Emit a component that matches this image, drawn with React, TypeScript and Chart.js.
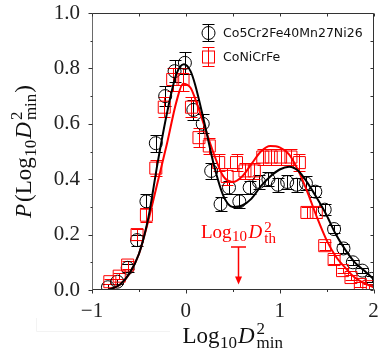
import React, { useEffect, useRef } from "react";
import { Chart, registerables } from "chart.js";

Chart.register(...registerables);

// ---- data ----
const circleX = [-0.83, -0.73, -0.62, -0.52, -0.42, -0.32, -0.22, -0.12, -0.01, 0.08, 0.18, 0.27, 0.37, 0.46, 0.57, 0.68, 0.78, 0.88, 0.98, 1.08, 1.18, 1.28, 1.38, 1.48, 1.58, 1.68, 1.78, 1.88, 1.98];
const circleY = [0.01, 0.03, 0.08, 0.18, 0.32, 0.53, 0.70, 0.79, 0.82, 0.65, 0.60, 0.43, 0.31, 0.37, 0.32, 0.37, 0.39, 0.40, 0.38, 0.39, 0.38, 0.385, 0.355, 0.29, 0.22, 0.15, 0.10, 0.07, 0.04];
const circleErr = [0.01, 0.01, 0.015, 0.02, 0.025, 0.03, 0.035, 0.04, 0.04, 0.035, 0.035, 0.03, 0.025, 0.025, 0.025, 0.025, 0.025, 0.025, 0.025, 0.025, 0.025, 0.025, 0.02, 0.02, 0.015, 0.015, 0.01, 0.01, 0.01];

const squareX = [-0.81, -0.71, -0.62, -0.52, -0.42, -0.32, -0.23, -0.14, -0.03, 0.06, 0.14, 0.25, 0.35, 0.44, 0.54, 0.63, 0.73, 0.82, 0.91, 1.01, 1.12, 1.21, 1.29, 1.39, 1.48, 1.58, 1.67, 1.76, 1.86, 1.95];
const squareY = [0.03, 0.05, 0.09, 0.20, 0.27, 0.44, 0.66, 0.76, 0.76, 0.66, 0.55, 0.52, 0.46, 0.41, 0.46, 0.43, 0.43, 0.48, 0.48, 0.48, 0.48, 0.46, 0.28, 0.28, 0.16, 0.11, 0.07, 0.045, 0.02, 0.012];
const squareErr = [0.01, 0.01, 0.015, 0.02, 0.025, 0.03, 0.035, 0.04, 0.04, 0.035, 0.035, 0.03, 0.03, 0.03, 0.03, 0.03, 0.03, 0.03, 0.03, 0.03, 0.03, 0.03, 0.02, 0.02, 0.015, 0.015, 0.01, 0.01, 0.01, 0.01];

const blackFitX = [-0.83, -0.7, -0.6, -0.5, -0.4, -0.3, -0.2, -0.1, -0.02, 0.05, 0.1, 0.2, 0.3, 0.4, 0.5, 0.6, 0.7, 0.8, 0.9, 1.0, 1.1, 1.2, 1.3, 1.4, 1.5, 1.6, 1.7, 1.8, 1.9, 2.0];
const blackFitY = [0, 0.02, 0.06, 0.13, 0.26, 0.46, 0.64, 0.78, 0.815, 0.79, 0.74, 0.60, 0.45, 0.34, 0.30, 0.305, 0.33, 0.375, 0.41, 0.435, 0.445, 0.43, 0.385, 0.33, 0.27, 0.20, 0.145, 0.10, 0.07, 0.04];

const redFitX = [-0.83, -0.7, -0.6, -0.5, -0.4, -0.3, -0.2, -0.1, -0.03, 0.05, 0.1, 0.2, 0.3, 0.4, 0.5, 0.6, 0.7, 0.8, 0.9, 1.0, 1.1, 1.2, 1.3, 1.4, 1.5, 1.6, 1.7, 1.8, 1.9, 2.0];
const redFitY = [0, 0.02, 0.06, 0.13, 0.25, 0.39, 0.53, 0.68, 0.745, 0.73, 0.69, 0.59, 0.49, 0.41, 0.39, 0.41, 0.455, 0.50, 0.52, 0.515, 0.49, 0.43, 0.35, 0.26, 0.18, 0.12, 0.08, 0.045, 0.025, 0.01];

const legendLabels = ["Co5Cr2Fe40Mn27Ni26", "CoNiCrFe"];
const xMin = -1, xMax = 2, xStep = 1, xMinorStep = 0.5;
const yMin = 0, yMax = 1, yStep = 0.2, yMinorStep = 0.1;
const thresholdX = 0.56;
const thresholdTop = 0.155;
const thresholdBottom = 0.02;

const RED = "#ff0000";
const SERIF = "'Liberation Serif', 'DejaVu Serif', serif";
const SANS = "'DejaVu Sans', sans-serif";

type Piece = { t: string; size: number; it?: boolean; dy?: number; pad?: number; join?: boolean };

function pieceFont(p: Piece) {
  return `${p.it ? "italic " : ""}${p.size}px ${SERIF}`;
}

function layoutPieces(ctx: CanvasRenderingContext2D, pieces: Piece[]) {
  let x = 0;
  let groupStart = 0;
  let groupW = 0;
  const out: { p: Piece; x: number }[] = [];
  for (const p of pieces) {
    ctx.font = pieceFont(p);
    const w = ctx.measureText(p.t).width;
    if (p.join) {
      out.push({ p, x: groupStart });
      groupW = Math.max(groupW, w);
      x = groupStart + groupW;
    } else {
      x += p.pad || 0;
      groupStart = x;
      groupW = w;
      out.push({ p, x });
      x += w;
    }
  }
  return { out, width: x };
}

function drawPieces(ctx: CanvasRenderingContext2D, pieces: Piece[], cx: number, baseY: number, color: string) {
  const { out, width } = layoutPieces(ctx, pieces);
  const x0 = cx - width / 2;
  ctx.fillStyle = color;
  ctx.textAlign = "left";
  ctx.textBaseline = "alphabetic";
  for (const o of out) {
    ctx.font = pieceFont(o.p);
    ctx.fillText(o.p.t, x0 + o.x, baseY + (o.p.dy || 0));
  }
}

const xTitle: Piece[] = [
  { t: "Log", size: 23 },
  { t: "10", size: 17, dy: 5, pad: 0.5 },
  { t: "D", size: 23, it: true, pad: 1 },
  { t: "2", size: 17, dy: -9, pad: 2 },
  { t: "min", size: 17, dy: 5, join: true },
];
const yTitle: Piece[] = [
  { t: "P", size: 23, it: true },
  { t: "(", size: 23, pad: 2 },
  { t: "Log", size: 23 },
  { t: "10", size: 17, dy: 5, pad: 0.5 },
  { t: "D", size: 23, it: true, pad: 1 },
  { t: "2", size: 17, dy: -9, pad: 2 },
  { t: "min", size: 17, dy: 5, join: true },
  { t: ")", size: 23, pad: 1 },
];
const thLabel: Piece[] = [
  { t: "Log", size: 19 },
  { t: "10", size: 15, dy: 3, pad: 0.5 },
  { t: "D", size: 19, it: true, pad: 1.5 },
  { t: "2", size: 15, dy: -6, pad: 2 },
  { t: "th", size: 15, dy: 5, join: true },
];

function range(a: number, b: number, step: number) {
  const r: number[] = [];
  const n = Math.round((b - a) / step);
  for (let i = 0; i <= n; i++) r.push(a + i * step);
  return r;
}

const decorPlugin = {
  id: "decor",
  beforeDatasetsDraw(chart: any) {
    const ctx: CanvasRenderingContext2D = chart.ctx;
    const xs = chart.scales.x;
    const ys = chart.scales.y;
    const ca = chart.chartArea;
    ctx.save();
    // faint figure-box remnant
    ctx.strokeStyle = "#f3f3f3";
    ctx.lineWidth = 1;
    ctx.beginPath();
    ctx.moveTo(36.5, 318);
    ctx.lineTo(36.5, 331.5);
    ctx.lineTo(170, 331.5);
    ctx.stroke();
    ctx.beginPath();
    ctx.rect(ca.left, ca.top, ca.right - ca.left, ca.bottom - ca.top);
    ctx.clip();
    const sets = [
      { X: circleX, Y: circleY, E: circleErr, c: "#000" },
      { X: squareX, Y: squareY, E: squareErr, c: RED },
    ];
    for (const s of sets) {
      ctx.strokeStyle = s.c;
      for (let i = 0; i < s.X.length; i++) {
        const px = Math.round(xs.getPixelForValue(s.X[i])) + 0.5;
        const pt = Math.round(ys.getPixelForValue(s.Y[i] + s.E[i])) + 0.5;
        const pb = Math.round(ys.getPixelForValue(s.Y[i] - s.E[i])) + 0.5;
        ctx.beginPath();
        ctx.moveTo(px, pt);
        ctx.lineTo(px, pb);
        ctx.moveTo(px - 6, pt);
        ctx.lineTo(px + 6, pt);
        ctx.moveTo(px - 6, pb);
        ctx.lineTo(px + 6, pb);
        ctx.stroke();
      }
    }
    ctx.restore();
  },
  afterDraw(chart: any) {
    const ctx: CanvasRenderingContext2D = chart.ctx;
    const xs = chart.scales.x;
    const ys = chart.scales.y;
    const ca = chart.chartArea;
    const L = Math.round(ca.left) + 0.5;
    const R = Math.round(ca.right) - 0.5;
    const T = Math.round(ca.top) + 0.5;
    const B = Math.round(ca.bottom) - 0.5;
    ctx.save();
    ctx.lineWidth = 1;
    ctx.strokeStyle = "#333";
    ctx.beginPath();
    ctx.moveTo(L, T);
    ctx.lineTo(R, T);
    ctx.lineTo(R, B);
    ctx.lineTo(L, B);
    ctx.stroke();
    ctx.strokeStyle = "#6a6a6a";
    ctx.beginPath();
    ctx.moveTo(L, T);
    ctx.lineTo(L, B);
    ctx.stroke();
    ctx.strokeStyle = "#333";
    ctx.beginPath();
    for (const v of range(xMin, xMax, xMinorStep)) {
      const px = Math.round(xs.getPixelForValue(v)) + 0.5;
      const major = Math.abs(v / xStep - Math.round(v / xStep)) < 1e-6;
      ctx.moveTo(px, B);
      ctx.lineTo(px, B + (major ? 4 : 2.5));
      ctx.moveTo(px, T);
      ctx.lineTo(px, T + 3);
    }
    for (const v of range(yMin, yMax, yMinorStep)) {
      const py = Math.round(ys.getPixelForValue(v)) + 0.5;
      const major = Math.abs(v / yStep - Math.round(v / yStep)) < 1e-6;
      ctx.moveTo(L - (major ? 4 : 2), py);
      ctx.lineTo(L, py);
      ctx.moveTo(R, py);
      ctx.lineTo(R - 3, py);
    }
    ctx.stroke();

    // threshold arrow
    const ax = Math.round(xs.getPixelForValue(thresholdX)) + 0.5;
    const aTop = ys.getPixelForValue(thresholdTop);
    const aBot = ys.getPixelForValue(thresholdBottom);
    ctx.strokeStyle = RED;
    ctx.fillStyle = RED;
    ctx.lineWidth = 1.5;
    ctx.beginPath();
    ctx.moveTo(ax - 7.5, aTop);
    ctx.lineTo(ax + 7.5, aTop);
    ctx.moveTo(ax, aTop);
    ctx.lineTo(ax, aBot - 6);
    ctx.stroke();
    ctx.beginPath();
    ctx.moveTo(ax - 3.5, aBot - 8);
    ctx.lineTo(ax + 3.5, aBot - 8);
    ctx.lineTo(ax, aBot);
    ctx.closePath();
    ctx.fill();
    drawPieces(ctx, thLabel, ax, aTop - 9, RED);

    // legend
    const lx = 208;
    const rows = [33, 57];
    ctx.lineWidth = 1;
    ctx.strokeStyle = "#000";
    ctx.beginPath();
    ctx.moveTo(lx + 0.5, rows[0] - 8.5);
    ctx.lineTo(lx + 0.5, rows[0] + 8.5);
    ctx.moveTo(lx - 5.5, rows[0] - 8.5);
    ctx.lineTo(lx + 6.5, rows[0] - 8.5);
    ctx.moveTo(lx - 5.5, rows[0] + 8.5);
    ctx.lineTo(lx + 6.5, rows[0] + 8.5);
    ctx.stroke();
    ctx.beginPath();
    ctx.arc(lx + 0.5, rows[0], 6.5, 0, Math.PI * 2);
    ctx.stroke();
    ctx.strokeStyle = RED;
    ctx.beginPath();
    ctx.moveTo(lx + 0.5, rows[1] - 9.5);
    ctx.lineTo(lx + 0.5, rows[1] + 9.5);
    ctx.moveTo(lx - 5.5, rows[1] - 9.5);
    ctx.lineTo(lx + 6.5, rows[1] - 9.5);
    ctx.moveTo(lx - 5.5, rows[1] + 9.5);
    ctx.lineTo(lx + 6.5, rows[1] + 9.5);
    ctx.stroke();
    ctx.strokeRect(lx - 5.5, rows[1] - 6, 12, 12);
    ctx.fillStyle = "#111";
    ctx.font = `12.5px ${SANS}`;
    ctx.textAlign = "left";
    ctx.textBaseline = "middle";
    ctx.fillText(legendLabels[0], 223, rows[0] + 0.5);
    ctx.fillText(legendLabels[1], 223, rows[1] + 0.5);

    // axis titles
    drawPieces(ctx, xTitle, (ca.left + ca.right) / 2, 343, "#111");
    ctx.save();
    ctx.translate(31, (ca.top + ca.bottom) / 2);
    ctx.rotate(-Math.PI / 2);
    drawPieces(ctx, yTitle, 0, 0, "#111");
    ctx.restore();
    ctx.restore();
  },
};

export default function App() {
  const ref = useRef<HTMLCanvasElement | null>(null);
  useEffect(() => {
    if (!ref.current) return;
    const pts = (X: number[], Y: number[]) => X.map((x, i) => ({ x, y: Y[i] }));
    const tickFont = { family: SERIF, size: 21 };
    const chart = new Chart(ref.current, {
      type: "scatter",
      data: {
        datasets: [
          {
            type: "line",
            label: "fit1",
            data: pts(blackFitX, blackFitY),
            borderColor: "#000",
            borderWidth: 2,
            pointRadius: 0,
            cubicInterpolationMode: "monotone",
            fill: false,
            order: 0,
          } as any,
          {
            type: "line",
            label: "fit2",
            data: pts(redFitX, redFitY),
            borderColor: RED,
            borderWidth: 2,
            pointRadius: 0,
            cubicInterpolationMode: "monotone",
            fill: false,
            order: 1,
          } as any,
          {
            label: legendLabels[0],
            data: pts(circleX, circleY),
            pointStyle: "circle",
            pointRadius: 6.5,
            borderColor: "#000",
            backgroundColor: "rgba(0,0,0,0)",
            borderWidth: 1,
            order: 3,
          },
          {
            label: legendLabels[1],
            data: pts(squareX, squareY),
            pointStyle: "rect",
            pointRadius: 8.5,
            borderColor: RED,
            backgroundColor: "rgba(0,0,0,0)",
            borderWidth: 1,
            order: 2,
          },
        ],
      },
      options: {
        responsive: false,
        animation: false,
        devicePixelRatio: 1,
        layout: { padding: { top: 13, right: 6, left: 0, bottom: 0 } },
        plugins: { legend: { display: false }, tooltip: { enabled: false } },
        scales: {
          x: {
            type: "linear",
            min: xMin,
            max: xMax,
            afterFit: (s: any) => {
              s.height = 64;
              s.paddingLeft = 0;
              s.paddingRight = 0;
            },
            grid: { display: false, drawTicks: false },
            border: { display: false },
            ticks: {
              stepSize: xStep,
              font: tickFont,
              color: "#222",
              padding: 9,
              maxRotation: 0,
              callback: (v: any) => (Number(v) < 0 ? "\u2212" + Math.abs(Number(v)) : String(v)),
            },
          },
          y: {
            type: "linear",
            min: yMin,
            max: yMax,
            afterFit: (s: any) => {
              s.width = 92;
              s.paddingTop = 0;
              s.paddingBottom = 0;
            },
            grid: { display: false, drawTicks: false },
            border: { display: false },
            ticks: {
              stepSize: yStep,
              font: tickFont,
              color: "#222",
              padding: 12,
              callback: (v: any) => Number(v).toFixed(1),
            },
          },
        },
      } as any,
      plugins: [decorPlugin],
    });
    return () => chart.destroy();
  }, []);
  return (
    <div style={{ position: "absolute", left: 0, top: 0, width: 383, height: 354, background: "#fff" }}>
      <canvas ref={ref} width={383} height={354} style={{ display: "block" }} />
    </div>
  );
}
